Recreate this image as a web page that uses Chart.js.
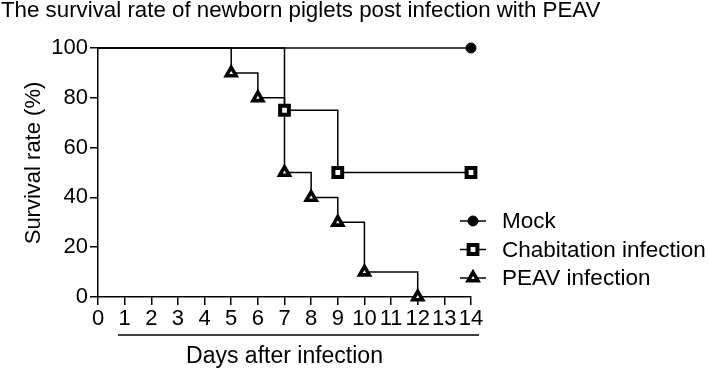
<!DOCTYPE html>
<html>
<head>
<meta charset="utf-8">
<script src="https://cdn.jsdelivr.net/npm/chart.js@4"></script>
<style>
  html, body { margin: 0; padding: 0; background: #fff; }
  #wrap { width: 709px; height: 369px; }
</style>
</head>
<body>
<div id="wrap"><canvas id="survChart"></canvas></div>
<script>
const mockDays = [0, 14];
const mockSurvival = [100, 100];
const chabDays = [0, 7, 9, 14];
const chabSurvival = [100, 75, 50, 50];
const peavDays = [0, 5, 6, 7, 8, 9, 10, 12];
const peavSurvival = [100, 90, 80, 50, 40, 30, 10, 0];
const seriesNames = ['Mock', 'Chabitation infection', 'PEAV infection'];
const chartTitle = 'The survival rate of newborn piglets post infection with PEAV';
const yTitle = 'Survival rate (%)';

const FONT = '"Liberation Sans", Arial, sans-serif';
const toPoints = (xs, ys) => xs.map((x, i) => ({ x, y: ys[i] }));
// first point is the start of the curve, no marker there
const hideFirst = r => ctx => ctx.dataIndex === 0 ? 0 : r;

function series(name, xs, ys, style, r, bg, bw) {
  return {
    label: name,
    data: toPoints(xs, ys),
    stepped: true,
    borderColor: '#000',
    borderWidth: 1.5,
    pointStyle: style,
    pointRadius: hideFirst(r),
    pointHoverRadius: hideFirst(r),
    pointBackgroundColor: bg,
    pointBorderColor: '#000',
    pointBorderWidth: bw,
    legendRadius: r,
    clip: false
  };
}

// title, y title, side legend and the bracket under the day labels
const extras = {
  id: 'extras',
  afterDraw(chart) {
    const ctx = chart.ctx;
    const area = chart.chartArea;
    ctx.save();
    ctx.fillStyle = '#000';
    ctx.textBaseline = 'middle';

    ctx.font = '22.3px ' + FONT;
    ctx.fillText(chartTitle, 1, 11);

    ctx.save();
    ctx.translate(34, area.top + 115);
    ctx.rotate(-Math.PI / 2);
    ctx.textAlign = 'center';
    ctx.font = '22px ' + FONT;
    ctx.fillText(yTitle, 0, 0);
    ctx.restore();

    const x0 = area.right - 11;
    chart.data.datasets.forEach((ds, i) => {
      const y = 221 + i * 28.5;
      ctx.strokeStyle = '#000';
      ctx.lineWidth = 1.5;
      ctx.beginPath();
      ctx.moveTo(x0, y);
      ctx.lineTo(x0 + 26, y);
      ctx.stroke();
      ctx.fillStyle = ds.pointBackgroundColor;
      ctx.lineWidth = ds.pointBorderWidth;
      Chart.helpers.drawPoint(ctx, { pointStyle: ds.pointStyle, radius: ds.legendRadius, borderWidth: ds.pointBorderWidth }, x0 + 13, y);
      ctx.fillStyle = '#000';
      ctx.font = '22.5px ' + FONT;
      ctx.fillText(ds.label, x0 + 42, y + 1);
    });

    const xs = chart.scales.x;
    const yl = area.bottom + 38;
    ctx.lineWidth = 1.5;
    ctx.beginPath();
    ctx.moveTo(xs.getPixelForValue(0.75), yl);
    ctx.lineTo(xs.getPixelForValue(14.3), yl);
    ctx.stroke();
    ctx.restore();
  }
};

new Chart(document.getElementById('survChart'), {
  type: 'line',
  data: {
    datasets: [
      series(seriesNames[0], mockDays, mockSurvival, 'circle', 5, '#000', 1),
      series(seriesNames[1], chabDays, chabSurvival, 'rect', 6.2, '#fff', 4),
      series(seriesNames[2], peavDays, peavSurvival, 'triangle', 5.6, '#fff', 3.6)
    ]
  },
  options: {
    responsive: true,
    maintainAspectRatio: false,
    animation: false,
    layout: { padding: { left: 0, top: 48, right: 238, bottom: 0 } },
    plugins: {
      legend: { display: false },
      tooltip: { enabled: false }
    },
    scales: {
      x: {
        type: 'linear',
        min: 0,
        max: 14,
        ticks: { stepSize: 1, color: '#000', font: { family: FONT, size: 22 }, padding: 1, maxRotation: 0, autoSkip: false },
        grid: { drawOnChartArea: false, drawTicks: true, tickLength: 8, color: '#000', lineWidth: 1.5 },
        border: { color: '#000', width: 1.5 },
        title: { display: true, text: 'Days after infection', color: '#000', font: { family: FONT, size: 23, lineHeight: 1 }, padding: { top: 0, bottom: 1 } },
        afterFit: s => { s.height = 72; }
      },
      y: {
        min: 0,
        max: 100,
        ticks: { stepSize: 20, color: '#000', font: { family: FONT, size: 22 }, padding: 2 },
        grid: { drawOnChartArea: false, drawTicks: true, tickLength: 8, color: '#000', lineWidth: 1.5 },
        border: { color: '#000', width: 1.5 },
        afterFit: s => { s.width = 98; }
      }
    }
  },
  plugins: [extras]
});
</script>
</body>
</html>
